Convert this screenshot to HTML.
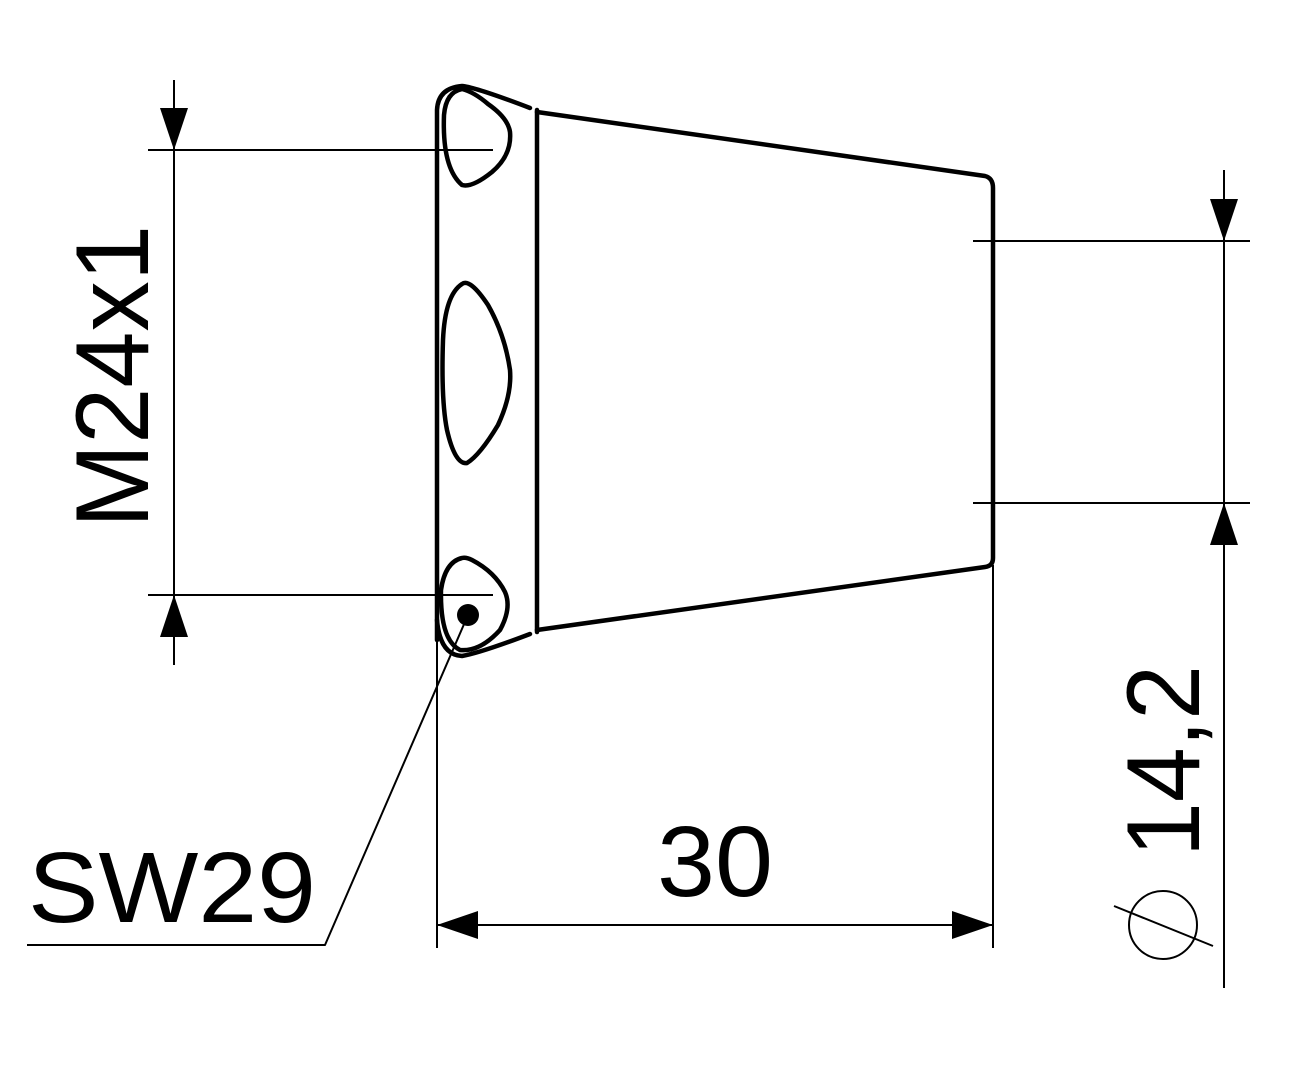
<!DOCTYPE html>
<html><head><meta charset="utf-8"><style>html,body{margin:0;padding:0;background:#fff}svg{display:block}</style></head>
<body>
<svg width="1296" height="1080" viewBox="0 0 1296 1080" xmlns="http://www.w3.org/2000/svg">
<rect width="1296" height="1080" fill="#fff"/>
<g fill="none" stroke="#000" stroke-linejoin="round" stroke-linecap="round">
  <g stroke-width="4.5">
    <path d="M437,640 L437,110 Q438,88 462,86 Q475,87 530,108"/>
    <path d="M537,110 L537,632"/>
    <path d="M537,112 L985,176 Q993,178 993,188 L993,558 Q993,566 985,567 L537,630"/>
    <path d="M437,620 Q440,655 462,656 Q480,653 530,634"/>
    <path d="M462,89 Q446,92 444,115 Q442,168 462,185 Q472,188 492,172 Q512,155 510,132 Q508,118 488,104 Q474,92 462,89 Z"/>
    <path d="M462,284 Q445,295 443,340 Q441,400 447,430 Q455,465 467,463 Q480,455 498,425 Q512,395 510,370 Q505,335 488,305 Q470,278 462,284 Z"/>
    <path d="M462,558 Q445,562 441,590 Q440,640 460,650 Q480,652 500,630 Q512,608 505,592 Q495,572 472,560 Q466,557 462,558 Z"/>
  </g>
  <g stroke-width="2" stroke-linecap="butt">
    <path d="M174,80 V665"/>
    <path d="M148,150 H493"/>
    <path d="M148,595 H493"/>
    <path d="M1224,170 V988"/>
    <path d="M973,241 H1250"/>
    <path d="M973,503 H1250"/>
    <path d="M437,640 V948"/>
    <path d="M993,565 V948"/>
    <path d="M437,925 H993"/>
    <path d="M468,615 L325,945 H27"/>
    <circle cx="1163" cy="925" r="34"/>
    <path d="M1114,906 L1213,946"/>
  </g>
</g>
<g fill="#000">
  <circle cx="468" cy="615" r="11"/>
  <polygon points="174,150 160,108 188,108"/>
  <polygon points="174,595 160,637 188,637"/>
  <polygon points="1224,241 1210,199 1238,199"/>
  <polygon points="1224,503 1210,545 1238,545"/>
  <polygon points="437,925 478,911 478,939"/>
  <polygon points="993,925 952,911 952,939"/>
</g>
<g font-family="Liberation Sans, Arial, sans-serif" fill="#000">
  <text x="0" y="0" font-size="104" transform="translate(148,528) rotate(-90)" textLength="303" lengthAdjust="spacingAndGlyphs">M24x1</text>
  <text x="0" y="0" font-size="104" transform="translate(1199,857) rotate(-90)" textLength="192" lengthAdjust="spacingAndGlyphs">14,2</text>
  <text x="657" y="896" font-size="100" textLength="116" lengthAdjust="spacingAndGlyphs">30</text>
  <text x="28" y="922" font-size="100" textLength="288" lengthAdjust="spacingAndGlyphs">SW29</text>
</g>
</svg>
</body></html>
